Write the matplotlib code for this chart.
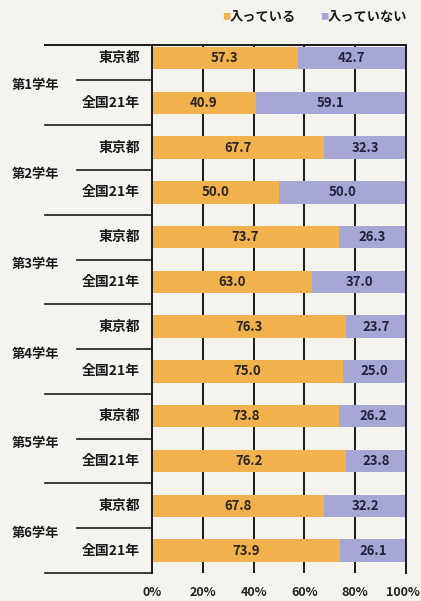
import matplotlib
matplotlib.use("Agg")
import matplotlib.pyplot as plt
import matplotlib.transforms as mtrans
import numpy as np

plt.rcParams['font.family'] = ['Noto Sans CJK JP', 'DejaVu Sans']

grades = ['第1学年', '第2学年', '第3学年', '第4学年', '第5学年', '第6学年']
rows = ['東京都', '全国21年']
tokyo_yes = [57.3, 67.7, 73.7, 76.3, 73.8, 67.8]
tokyo_no = [42.7, 32.3, 26.3, 23.7, 26.2, 32.2]
nat_yes = [40.9, 50.0, 63.0, 75.0, 76.2, 73.9]
nat_no = [59.1, 50.0, 37.0, 25.0, 23.8, 26.1]
ticks = [0, 20, 40, 60, 80, 100]
legend_labels = ['入っている', '入っていない']

c_yes = '#f1b14c'
c_no = '#a6a7d5'
bg = '#f4f3ee'

W, H = 421, 601
fig = plt.figure(figsize=(W / 100, H / 100), dpi=100, facecolor=bg)
ax = fig.add_axes([152 / W, 1 - 573 / H, 254 / W, 528 / H])
ax.set_facecolor(bg)

yes = []
no = []
for t, n in zip(tokyo_yes, nat_yes):
    yes += [t, n]
for t, n in zip(tokyo_no, nat_no):
    no += [t, n]
y = np.arange(len(yes))

for v in ticks[1:-1]:
    ax.axvline(v, color='#1a1a1a', lw=1.4, zorder=1)

ax.barh(y, yes, height=0.5, color=c_yes, zorder=2)
ax.barh(y, no, left=yes, height=0.5, color=c_no, zorder=2)
for i in range(len(yes)):
    ax.text(yes[i] / 2, y[i], f'{yes[i]:.1f}', ha='center', va='center',
            fontsize=9.5, fontweight='bold', color='#2a2420', zorder=3)
    ax.text(yes[i] + no[i] / 2, y[i], f'{no[i]:.1f}', ha='center', va='center',
            fontsize=9.5, fontweight='bold', color='#22223a', zorder=3)

ax.set_xlim(0, 100)
ax.set_ylim(len(yes) - 0.5, -0.29)
ax.set_xticks(ticks)
ax.set_xticklabels([f'{v}%' for v in ticks], fontsize=9, fontweight='bold', color='#222')
ax.tick_params(axis='x', length=0, pad=9)
last = ax.get_xticklabels()[-1]
last.set_transform(last.get_transform() + mtrans.ScaledTranslation(-3 / 100, 0, fig.dpi_scale_trans))
ax.set_yticks([])
for s in ['top', 'bottom']:
    ax.spines[s].set_visible(False)
for s in ['left', 'right']:
    ax.spines[s].set_color('#1a1a1a')
    ax.spines[s].set_linewidth(1.4)

tr = mtrans.blended_transform_factory(ax.transAxes, ax.transData)
x_far = (45 - 152) / 254
x_mid = (77 - 152) / 254

# top rule
ax.plot([x_far, 1], [-0.29, -0.29], transform=tr, color='#1a1a1a', lw=1.4, clip_on=False)

for g, name in enumerate(grades):
    i0 = 2 * g
    ax.text(-0.047, i0, rows[0], transform=tr, ha='right', va='center',
            fontsize=10, fontweight='bold', color='#1a1a1a')
    ax.text(-0.047, i0 + 1, rows[1], transform=tr, ha='right', va='center',
            fontsize=10, fontweight='bold', color='#1a1a1a')
    ax.text(-0.551, i0 + 0.6, name, transform=tr, ha='left', va='center',
            fontsize=9.5, fontweight='bold', color='#1a1a1a')
    ax.plot([x_mid, 0], [i0 + 0.5, i0 + 0.5], transform=tr, color='#1a1a1a',
            lw=1.2, clip_on=False)
    ax.plot([x_far, 0], [i0 + 1.5, i0 + 1.5], transform=tr, color='#1a1a1a',
            lw=1.2, clip_on=False)

# legend
fig.text(222 / W, 1 - 17 / H, '■', color=c_yes, fontsize=6, ha='left', va='center')
fig.text(230 / W, 1 - 17 / H, legend_labels[0], color='#1a1a1a', fontsize=9.5,
         fontweight='bold', ha='left', va='center')
fig.text(320 / W, 1 - 17 / H, '■', color=c_no, fontsize=6, ha='left', va='center')
fig.text(328 / W, 1 - 17 / H, legend_labels[1], color='#1a1a1a', fontsize=9.5,
         fontweight='bold', ha='left', va='center')

fig.savefig('out.png', dpi=100, facecolor=bg)
